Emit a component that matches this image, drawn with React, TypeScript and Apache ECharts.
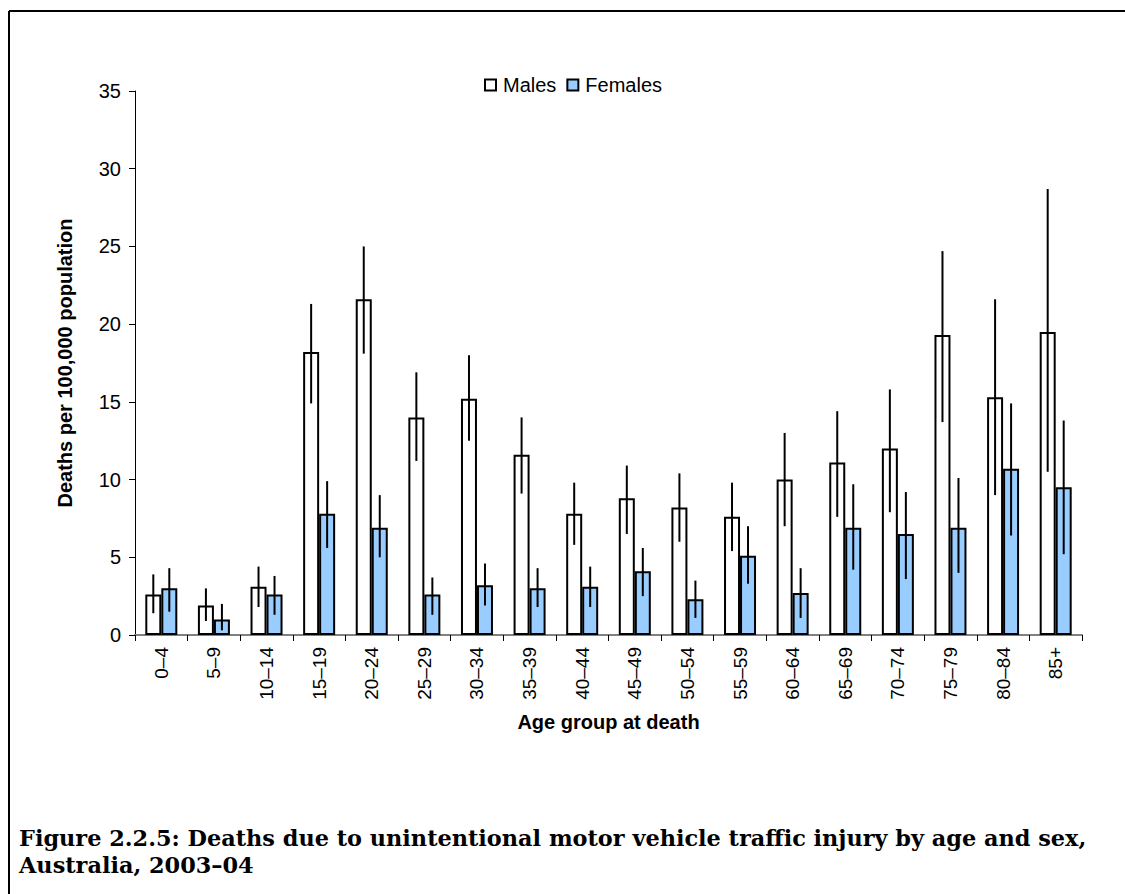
import React, { useEffect, useRef } from "react";
import * as echarts from "echarts";

const categories = ["0–4","5–9","10–14","15–19","20–24","25–29","30–34","35–39","40–44","45–49","50–54","55–59","60–64","65–69","70–74","75–79","80–84","85+"];
const males = [2.6, 1.9, 3.1, 18.2, 21.6, 14.0, 15.2, 11.6, 7.8, 8.8, 8.2, 7.6, 10.0, 11.1, 12.0, 19.3, 15.3, 19.5];
const malesLow = [1.4, 0.9, 1.8, 14.9, 18.1, 11.2, 12.5, 9.1, 5.8, 6.5, 6.0, 5.4, 7.0, 7.6, 7.9, 13.7, 9.0, 10.5];
const malesHigh = [3.9, 3.0, 4.4, 21.3, 25.0, 16.9, 18.0, 14.0, 9.8, 10.9, 10.4, 9.8, 13.0, 14.4, 15.8, 24.7, 21.6, 28.7];
const females = [3.0, 1.0, 2.6, 7.8, 6.9, 2.6, 3.2, 3.0, 3.1, 4.1, 2.3, 5.1, 2.7, 6.9, 6.5, 6.9, 10.7, 9.5];
const femalesLow = [1.5, 0.3, 1.3, 5.6, 5.0, 1.3, 1.9, 1.8, 1.8, 2.5, 1.1, 3.3, 1.1, 4.2, 3.6, 4.0, 6.4, 5.2];
const femalesHigh = [4.3, 2.0, 3.8, 9.9, 9.0, 3.7, 4.6, 4.3, 4.4, 5.6, 3.5, 7.0, 4.3, 9.7, 9.2, 10.1, 14.9, 13.8];
const yTicks = [0, 5, 10, 15, 20, 25, 30, 35];

const BAR_W = 16;

function errSeries(name: string, low: number[], high: number[], offset: number) {
  return {
    type: "custom",
    name,
    silent: true,
    z: 5,
    data: low.map((l, i) => [i, l, high[i]]),
    encode: { x: 0, y: [1, 2] },
    renderItem: (params: any, api: any) => {
      const i = api.value(0);
      const p1 = api.coord([i, api.value(1)]);
      const p2 = api.coord([i, api.value(2)]);
      return {
        type: "line",
        shape: { x1: p1[0] + offset, y1: p1[1], x2: p2[0] + offset, y2: p2[1] },
        style: { stroke: "#000", lineWidth: 2 },
      };
    },
  };
}

export default function App() {
  const ref = useRef<HTMLDivElement>(null);
  useEffect(() => {
    const chart = echarts.init(ref.current!, null, { renderer: "svg" });
    const font = "Arial, 'Liberation Sans', sans-serif";
    chart.setOption({
      animation: false,
      backgroundColor: "#fff",
      textStyle: { fontFamily: font },
      legend: {
        data: ["Males", "Females"],
        left: 479,
        top: 70,
        itemWidth: 11,
        itemHeight: 11,
        itemGap: 10,
        icon: "rect",
        textStyle: { fontSize: 20, color: "#000", fontFamily: font, padding: [0, 0, 0, 2] },
      },
      grid: { left: 135, right: 43, top: 91, bottom: 259 },
      xAxis: {
        type: "category",
        data: categories,
        axisLine: { lineStyle: { color: "#808080", width: 2 } },
        axisTick: { show: true, length: 6, lineStyle: { color: "#000", width: 1 } },
        axisLabel: { rotate: 90, fontSize: 19, color: "#000", margin: 12, fontFamily: font },
        name: "Age group at death",
        nameLocation: "middle",
        nameGap: 77,
        nameTextStyle: { fontSize: 20, fontWeight: "bold", color: "#000", fontFamily: font },
      },
      yAxis: {
        type: "value",
        min: 0,
        max: 35,
        interval: 5,
        axisLine: { show: true, lineStyle: { color: "#000", width: 1 } },
        axisTick: { show: true, length: 6, lineStyle: { color: "#000" } },
        splitLine: { show: false },
        axisLabel: {
          fontSize: 20, color: "#000", margin: 14, fontFamily: font,
          formatter: (v: number) => (yTicks.includes(v) ? String(v) : ""),
        },
        name: "Deaths per 100,000 population",
        nameLocation: "middle",
        nameGap: 60,
        nameTextStyle: { fontSize: 20, fontWeight: "bold", color: "#000", fontFamily: font },
      },
      graphic: [
        { type: "line", shape: { x1: 9, y1: 11, x2: 1125, y2: 11 }, style: { stroke: "#000", lineWidth: 2 } },
        { type: "line", shape: { x1: 9, y1: 11, x2: 9, y2: 894 }, style: { stroke: "#000", lineWidth: 2 } },
        {
          type: "text", left: 19, top: 824,
          style: {
            text: "Figure 2.2.5: Deaths due to unintentional motor vehicle traffic injury by age and sex,\nAustralia, 2003–04",
            font: "bold 22.4px 'DejaVu Serif', serif", fill: "#000", lineHeight: 27,
          },
        },
      ],
      series: [
        {
          type: "bar", name: "Males", data: males, barWidth: BAR_W, barGap: "0%",
          itemStyle: { color: "#ffffff", borderColor: "#000", borderWidth: 2 },
        },
        {
          type: "bar", name: "Females", data: females, barWidth: BAR_W, barGap: "0%",
          itemStyle: { color: "#99ccff", borderColor: "#000", borderWidth: 2 },
        },
        errSeries("MalesErr", malesLow, malesHigh, -BAR_W / 2),
        errSeries("FemalesErr", femalesLow, femalesHigh, BAR_W / 2),
      ],
    });
    return () => chart.dispose();
  }, []);
  return <div ref={ref} style={{ position: "absolute", left: 0, top: 0, width: 1125, height: 894 }} />;
}
